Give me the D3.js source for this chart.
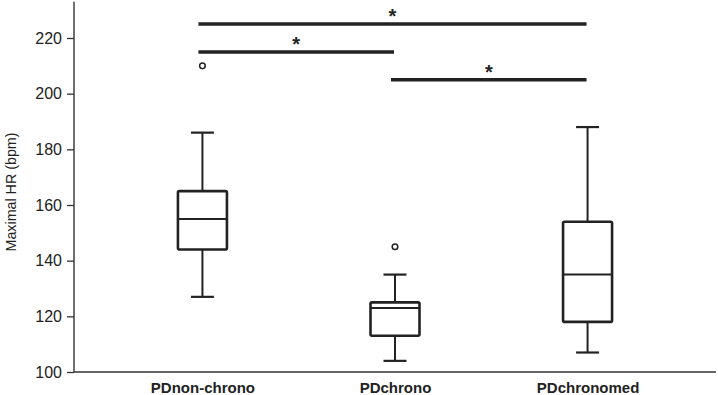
<!DOCTYPE html>
<html><head><meta charset="utf-8">
<script src="https://cdn.jsdelivr.net/npm/d3@7"></script>
<style>body{margin:0;background:#fff}</style>
</head><body>
<svg id="c" width="718" height="395"></svg>
<script>
const categories = ["PDnon-chrono", "PDchrono", "PDchronomed"];
const whiskerLow = [127, 104, 107];
const q1 = [144, 113, 118];
const median = [155, 123, 135];
const q3 = [165, 125, 154];
const whiskerHigh = [186, 135, 188];
const outliers = [[210], [145], []];
const yTicks = [100, 120, 140, 160, 180, 200, 220];
const sigFrom = [0, 0, 1];
const sigTo = [2, 1, 2];
const sigLevel = [225, 215, 205];
const sigLabel = ["*", "*", "*"];

const svg = d3.select("#c");
const col = "#222";
const x = d3.scalePoint().domain(categories).range([74, 716]).padding(0.667);
const y = d3.scaleLinear().domain([100, 220]).range([372, 38]);
const yTop = 233;

// axes
const yAxis = d3.axisLeft(y).tickValues(yTicks).tickSize(7).tickPadding(5).tickFormat(d3.format("d"));
const gy = svg.append("g").attr("transform", "translate(74,0)").call(yAxis);
gy.select(".domain").remove();
gy.selectAll(".tick line").attr("stroke", "#333").attr("stroke-width", 1.3);
gy.selectAll(".tick text").attr("font-family", "Liberation Sans, Arial, sans-serif").attr("font-size", 16).attr("fill", "#222");
svg.append("line").attr("x1", 74).attr("x2", 74).attr("y1", y(yTop)).attr("y2", y(100)).attr("stroke", "#333").attr("stroke-width", 1.4);

const xAxis = d3.axisBottom(x).tickSize(0).tickPadding(10);
const gx = svg.append("g").attr("transform", "translate(0,372)").call(xAxis);
gx.select(".domain").remove();
gx.selectAll(".tick text").attr("font-family", "Liberation Sans, Arial, sans-serif").attr("font-size", 15).attr("font-weight", "bold").attr("fill", "#222");
svg.append("line").attr("x1", 74).attr("x2", 716).attr("y1", y(100)).attr("y2", y(100)).attr("stroke", "#333").attr("stroke-width", 1.4);

svg.append("text").attr("transform", `translate(15.5,192) rotate(-90)`)
  .attr("text-anchor", "middle").attr("font-family", "Liberation Sans, Arial, sans-serif")
  .attr("font-size", 15).attr("textLength", 119).attr("lengthAdjust", "spacingAndGlyphs")
  .attr("fill", "#222").text("Maximal HR (bpm)");

// boxes
const boxW = 49, capW = 23;
categories.forEach((c, i) => {
  const cx = x(c);
  const g = svg.append("g");
  g.append("line").attr("x1", cx).attr("x2", cx).attr("y1", y(q3[i])).attr("y2", y(whiskerHigh[i])).attr("stroke", col).attr("stroke-width", 2);
  g.append("line").attr("x1", cx).attr("x2", cx).attr("y1", y(q1[i])).attr("y2", y(whiskerLow[i])).attr("stroke", col).attr("stroke-width", 2);
  [whiskerHigh[i], whiskerLow[i]].forEach(v => {
    g.append("line").attr("x1", cx - capW/2).attr("x2", cx + capW/2).attr("y1", y(v)).attr("y2", y(v)).attr("stroke", col).attr("stroke-width", 2.2);
  });
  g.append("rect").attr("x", cx - boxW/2).attr("y", y(q3[i])).attr("width", boxW).attr("height", y(q1[i]) - y(q3[i]))
    .attr("rx", 1.5).attr("fill", "#fff").attr("stroke", col).attr("stroke-width", 2.6);
  g.append("line").attr("x1", cx - boxW/2).attr("x2", cx + boxW/2).attr("y1", y(median[i])).attr("y2", y(median[i])).attr("stroke", col).attr("stroke-width", 2);
  outliers[i].forEach(v => {
    g.append("circle").attr("cx", cx).attr("cy", y(v)).attr("r", 2.8).attr("fill", "#fff").attr("stroke", col).attr("stroke-width", 1.5);
  });
});

// significance bars
sigLevel.forEach((lv, i) => {
  const x1 = x(categories[sigFrom[i]]) - 4, x2 = x(categories[sigTo[i]]) - 1;
  svg.append("line").attr("x1", x1).attr("x2", x2).attr("y1", y(lv)).attr("y2", y(lv)).attr("stroke", col).attr("stroke-width", 3.5);
  svg.append("text").attr("x", (x1 + x2)/2).attr("y", y(lv) - 1).attr("text-anchor", "middle")
    .attr("font-family", "Liberation Sans, Arial, sans-serif").attr("font-size", 20).attr("font-weight", "bold").attr("fill", col).text(sigLabel[i]);
});
</script>
</body></html>
